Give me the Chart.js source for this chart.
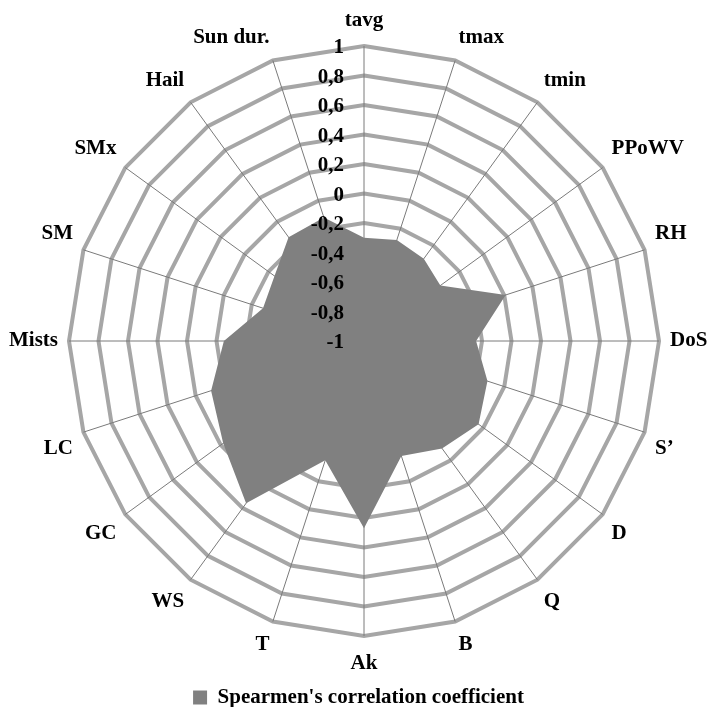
<!DOCTYPE html>
<html>
<head>
<meta charset="utf-8">
<script src="https://cdn.jsdelivr.net/npm/chart.js@4"></script>
<style>
  html, body { margin: 0; padding: 0; background: #fff; overflow: hidden; }
  #wrap { width: 714px; height: 707px; }
</style>
</head>
<body>
<div id="wrap"><canvas id="mycanvas"></canvas></div>
<script>
var categories = ["tavg", "tmax", "tmin", "PPoWV", "RH", "DoS", "S\u2019", "D", "Q", "B",
                  "Ak", "T", "WS", "GC", "LC", "Mists", "SM", "SMx", "Hail", "Sun dur."];
var spearman = [-0.30, -0.28, -0.31, -0.36, 0.01, -0.24, -0.12, -0.04, -0.10, -0.18,
                0.27, -0.15, 0.36, 0.18, 0.09, -0.05, -0.28, -0.25, -0.13, -0.12];
var tickLabels = ["-1", "-0,8", "-0,6", "-0,4", "-0,2", "0", "0,2", "0,4", "0,6", "0,8", "1"];

var serif = '"Liberation Serif", "Times New Roman", serif';

// tick labels sit left of the top spoke, on top of the filled area
var tickPlugin = {
	id: 'tickText',
	afterDatasetsDraw: function(chart) {
		var scale = chart.scales.r;
		var ctx = chart.ctx;
		ctx.save();
		ctx.font = "bold 21px " + serif;
		ctx.fillStyle = "#000";
		ctx.textAlign = "right";
		ctx.textBaseline = "middle";
		scale.ticks.forEach(function(t, i) {
			var d = scale.getDistanceFromCenterForValue(t.value);
			ctx.fillText(tickLabels[i], scale.xCenter - 20, scale.yCenter - d + 2);
		});
		ctx.restore();
	}
};

function draw() {
	var chartdata = {
		labels: categories,
		datasets: [{
			label: "Spearmen's correlation coefficient",
			data: spearman,
			backgroundColor: '#808080',
			borderColor: '#808080',
			borderWidth: 0,
			pointRadius: 0,
			fill: 'start'
		}]
	};

	var ctx = document.getElementById('mycanvas');
	new Chart(ctx, {
		type: 'radar',
		data: chartdata,
		plugins: [tickPlugin],
		options: {
			responsive: true,
			maintainAspectRatio: false,
			animation: false,
			layout: { padding: { top: -1, bottom: -11, left: 3, right: 0 } },
			elements: { line: { tension: 0 } },
			scales: {
				r: {
					min: -1,
					max: 1,
					ticks: { stepSize: 0.2, display: false },
					grid: { circular: false, color: '#a6a6a6', lineWidth: 4 },
					angleLines: { color: '#7a7a7a', lineWidth: 1 },
					pointLabels: {
						color: '#000',
						padding: function(c) {
							if (c.index === 0) return 13;
							if (c.index === 10) return 15;
							return 11;
						},
						font: { family: serif, size: 21, weight: 'bold' }
					}
				}
			},
			plugins: {
				legend: {
					position: 'bottom',
					labels: {
						color: '#000',
						boxWidth: 14,
						boxHeight: 14,
						padding: 2,
						font: { family: serif, size: 21, weight: 'bold' }
					}
				},
				tooltip: { enabled: false }
			}
		}
	});
}

if (document.fonts && document.fonts.load) {
	document.fonts.load('bold 21px "Liberation Serif"').then(draw, draw);
} else {
	draw();
}
</script>
</body>
</html>
